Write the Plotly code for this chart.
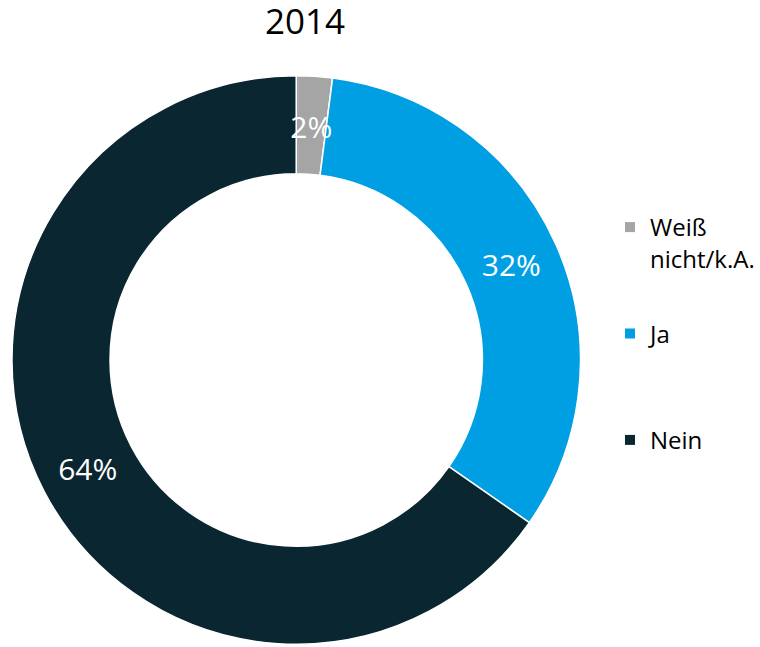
import plotly.graph_objects as go

title_text = "2014"
categories = ["Weiß nicht/k.A.", "Ja", "Nein"]
values = [2, 32, 64]
value_labels = ["2%", "32%", "64%"]
colors = ["#a5a5a5", "#009fe3", "#0a2630"]

W, H = 760, 647
FONT = "Open Sans"

# legend texts: wrapped like the original, padded so entries keep even spacing
legend_texts = ["Weiß<br>nicht/k.A.", "Ja<br> ", "Nein"]

# the thin first slice carries its label at mid-ring: drawn by a second, transparent pie
main_text = ["" if v < 5 else t for v, t in zip(values, value_labels)]
small_text = [t if v < 5 else "" for v, t in zip(values, value_labels)]

cx, cy, R = 297, 360, 285
r_small = 250

fig = go.Figure()
fig.add_trace(
    go.Pie(
        labels=categories,
        values=values,
        text=main_text,
        textinfo="text",
        textposition="inside",
        insidetextorientation="horizontal",
        textfont=dict(color="white", size=30, family=FONT),
        hole=0.655,
        sort=False,
        direction="clockwise",
        rotation=0,
        marker=dict(colors=colors, line=dict(color="white", width=1.5)),
        domain=dict(x=[(cx - R) / W, (cx + R) / W], y=[1 - (cy + R) / H, 1 - (cy - R) / H]),
        showlegend=False,
        hoverinfo="label+percent",
    )
)
fig.add_trace(
    go.Pie(
        labels=categories,
        values=values,
        text=small_text,
        textinfo="text",
        textposition="inside",
        insidetextorientation="horizontal",
        textfont=dict(color="white", size=30, family=FONT),
        hole=0.5,
        sort=False,
        direction="clockwise",
        rotation=0,
        marker=dict(colors=["rgba(0,0,0,0)"] * len(values), line=dict(width=0)),
        domain=dict(x=[(cx - r_small) / W, (cx + r_small) / W],
                    y=[1 - (cy + r_small) / H, 1 - (cy - r_small) / H]),
        showlegend=False,
        hoverinfo="skip",
    )
)

for cat, txt, col in zip(categories, legend_texts, colors):
    fig.add_trace(
        go.Scatter(
            x=[None], y=[None], mode="markers",
            marker=dict(symbol="square", size=10, color=col),
            name=txt, legendgroup=cat, showlegend=True, hoverinfo="skip",
        )
    )

fig.update_layout(
    width=W,
    height=H,
    margin=dict(l=0, r=0, t=0, b=0),
    paper_bgcolor="white",
    plot_bgcolor="white",
    font=dict(family=FONT, color="#000000"),
    xaxis=dict(visible=False),
    yaxis=dict(visible=False),
    title=dict(
        text=title_text,
        x=305 / W,
        xanchor="center",
        y=1 - 22 / H,
        yanchor="middle",
        font=dict(size=35, family=FONT, color="#000000"),
    ),
    uniformtext=dict(minsize=30, mode="show"),
    legend=dict(
        x=612 / W,
        xanchor="left",
        y=1 - 205 / H,
        yanchor="top",
        valign="top",
        traceorder="grouped",
        tracegroupgap=41,
        font=dict(size=24, family=FONT, color="#000000"),
        bgcolor="rgba(0,0,0,0)",
    ),
)

fig.write_html(
    "out.html",
    config={"displayModeBar": False},
    post_script="document.body.style.margin='0';",
)
